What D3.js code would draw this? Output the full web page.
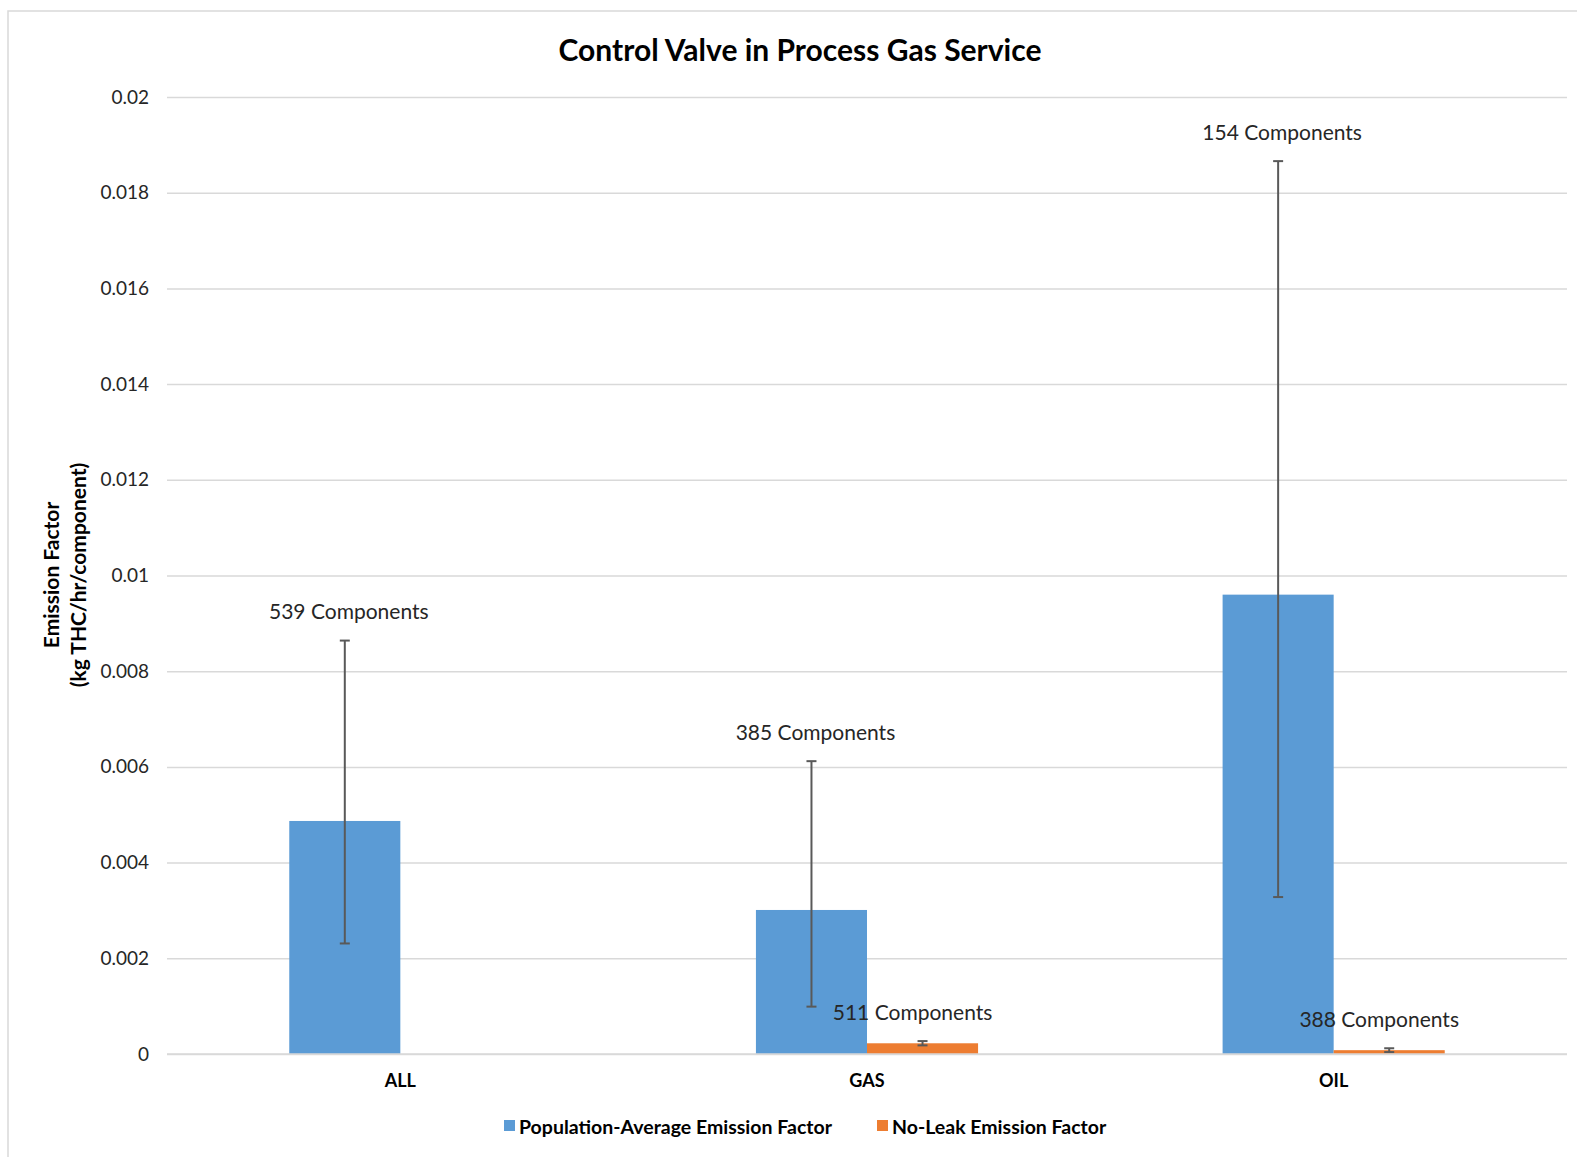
<!DOCTYPE html>
<html>
<head>
<meta charset="utf-8">
<script src="https://cdn.jsdelivr.net/npm/d3@7"></script>
<style>
  html, body { margin: 0; padding: 0; background: #fff; }
  svg { display: block; font-family: Lato, "Open Sans", sans-serif; }
</style>
</head>
<body>
<svg id="chart" width="1577" height="1157"></svg>
<script>
const chartTitle = "Control Valve in Process Gas Service";
const yTitleLines = ["Emission Factor", "(kg THC/hr/component)"];
const categories = ["ALL", "GAS", "OIL"];
const seriesNames = ["Population-Average Emission Factor", "No-Leak Emission Factor"];
const seriesColors = ["#5B9BD5", "#ED7D31"];
const popAvg = [0.00487, 0.00301, 0.0096];
const popAvgLow = [0.00231, 0.00099, 0.00328];
const popAvgHigh = [0.00864, 0.00612, 0.01866];
const noLeak = [null, 0.000224, 0.00008];
const noLeakLow = [null, 0.00018, 0.00004];
const noLeakHigh = [null, 0.00027, 0.00012];
const popAvgLabels = ["539 Components", "385 Components", "154 Components"];
const noLeakLabels = [null, "511 Components", "388 Components"];
const yTicks = [0, 0.002, 0.004, 0.006, 0.008, 0.01, 0.012, 0.014, 0.016, 0.018, 0.02];
const yTickLabels = ["0", "0.002", "0.004", "0.006", "0.008", "0.01", "0.012", "0.014", "0.016", "0.018", "0.02"];

const series = [
  { key: "pop", name: seriesNames[0], color: seriesColors[0], values: popAvg, low: popAvgLow, high: popAvgHigh, labels: popAvgLabels, dx: 4 },
  { key: "nl", name: seriesNames[1], color: seriesColors[1], values: noLeak, low: noLeakLow, high: noLeakHigh, labels: noLeakLabels, dx: -10 }
];

const svg = d3.select("#chart");
const plotLeft = 167, plotRight = 1567, plotTop = 97, plotBottom = 1054;

// chart border
svg.append("rect").attr("x", 8).attr("y", 11).attr("width", 1600).attr("height", 1200)
  .attr("fill", "none").attr("stroke", "#D9D9D9").attr("stroke-width", 1.5);

const x0 = d3.scaleBand().domain(categories).range([plotLeft, plotRight]).paddingInner(0).paddingOuter(0);
const bw = x0.bandwidth();
const x1 = d3.scaleBand().domain(series.map(s => s.key)).range([bw * 0.262, bw * 0.738]).padding(0);
const y = d3.scaleLinear().domain([0, 0.02]).range([plotBottom, plotTop]);

// gridlines + y axis
const yAxis = d3.axisLeft(y).tickValues(yTicks)
  .tickFormat((d, i) => yTickLabels[i])
  .tickSize(-(plotRight - plotLeft)).tickPadding(18);
const gy = svg.append("g").attr("transform", `translate(${plotLeft},0)`).call(yAxis);
gy.select(".domain").remove();
gy.selectAll(".tick line").attr("stroke", "#D9D9D9").attr("stroke-width", 1.5);
gy.selectAll(".tick text").attr("fill", "#262626").style("font-size", "19px")
  .style("font-family", "Lato, sans-serif");

// bars
series.forEach(s => {
  const g = svg.append("g");
  categories.forEach((c, i) => {
    const v = s.values[i];
    if (v == null) return;
    const bx = x0(c) + x1(s.key);
    g.append("rect").attr("x", bx).attr("y", y(v))
      .attr("width", x1.bandwidth()).attr("height", y(0) - y(v))
      .attr("fill", s.color);
  });
});

// error bars
series.forEach(s => {
  categories.forEach((c, i) => {
    if (s.values[i] == null) return;
    const cx = x0(c) + x1(s.key) + x1.bandwidth() / 2;
    const g = svg.append("g").attr("stroke", "#595959").attr("stroke-width", 2);
    g.append("line").attr("x1", cx).attr("x2", cx).attr("y1", y(s.high[i])).attr("y2", y(s.low[i]));
    g.append("line").attr("x1", cx - 5).attr("x2", cx + 5).attr("y1", y(s.high[i])).attr("y2", y(s.high[i]));
    g.append("line").attr("x1", cx - 5).attr("x2", cx + 5).attr("y1", y(s.low[i])).attr("y2", y(s.low[i]));
  });
});

// data labels
series.forEach(s => {
  categories.forEach((c, i) => {
    if (s.labels[i] == null) return;
    const cx = x0(c) + x1(s.key) + x1.bandwidth() / 2 + s.dx;
    svg.append("text").attr("x", cx).attr("y", y(s.high[i]) - 30)
      .attr("text-anchor", "middle").attr("dominant-baseline", "central")
      .attr("fill", "#262626").style("font-size", "21px")
      .text(s.labels[i]);
  });
});

// zero axis line
svg.append("line").attr("x1", plotLeft).attr("x2", plotRight).attr("y1", y(0)).attr("y2", y(0))
  .attr("stroke", "#D9D9D9").attr("stroke-width", 1.5);

// category labels
categories.forEach(c => {
  svg.append("text").attr("x", x0(c) + bw / 2).attr("y", 1080)
    .attr("text-anchor", "middle").attr("dominant-baseline", "central")
    .attr("fill", "#000").style("font-size", "18px").style("font-weight", "bold")
    .text(c);
});

// title
svg.append("text").attr("x", 800).attr("y", 49)
  .attr("text-anchor", "middle").attr("dominant-baseline", "central")
  .attr("fill", "#000").style("font-size", "30px").style("font-weight", "bold")
  .text(chartTitle);

// y axis title
const yt = svg.append("text").attr("transform", "translate(60,575) rotate(-90)")
  .attr("text-anchor", "middle").attr("fill", "#000")
  .style("font-size", "21px").style("font-weight", "bold");
yTitleLines.forEach((t, i) => {
  yt.append("tspan").attr("x", 0).attr("dy", i === 0 ? "-0.05em" : "1.3em").text(t);
});

// legend
const legendItems = [{ x: 504, s: series[0] }, { x: 877, s: series[1] }];
legendItems.forEach(li => {
  svg.append("rect").attr("x", li.x).attr("y", 1120).attr("width", 11).attr("height", 11).attr("fill", li.s.color);
  svg.append("text").attr("x", li.x + 15).attr("y", 1126)
    .attr("dominant-baseline", "central").attr("fill", "#000")
    .style("font-size", "19.5px").style("font-weight", "bold").text(li.s.name);
});
</script>
</body>
</html>
